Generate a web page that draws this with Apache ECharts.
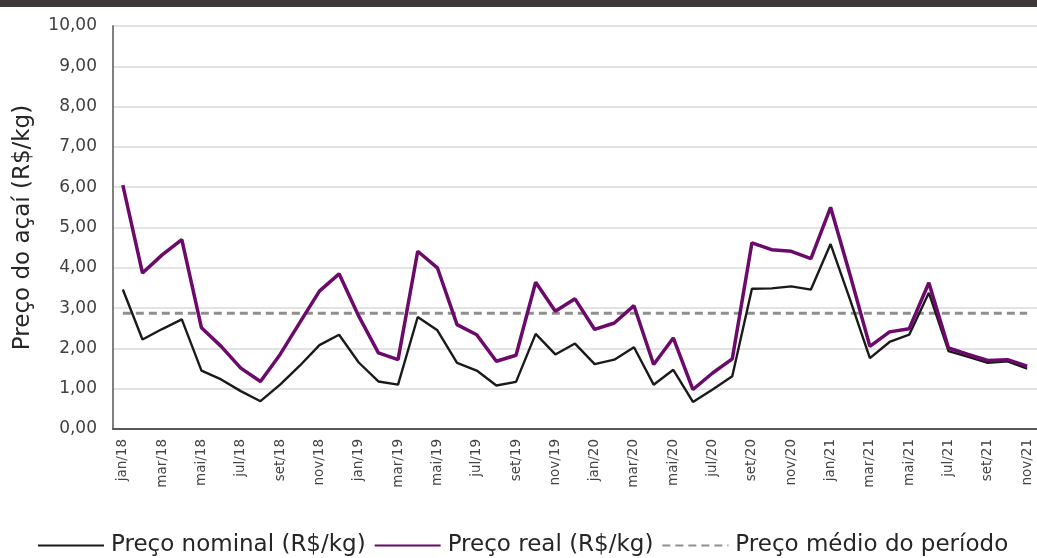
<!DOCTYPE html>
<html>
<head>
<meta charset="utf-8">
<script src="https://cdn.jsdelivr.net/npm/echarts@6/dist/echarts.min.js"></script>
<style>
  html, body { margin: 0; padding: 0; background: #fff; }
  #container { width: 1037px; height: 558px; }
</style>
</head>
<body>
<div id="container"></div>
<script>
var dom = document.getElementById('container');
var myChart = echarts.init(dom, null, { renderer: 'canvas', useDirtyRect: false });

const meses = [
  'jan/18', 'fev/18', 'mar/18', 'abr/18', 'mai/18', 'jun/18', 'jul/18', 'ago/18', 'set/18', 'out/18', 'nov/18', 'dez/18',
  'jan/19', 'fev/19', 'mar/19', 'abr/19', 'mai/19', 'jun/19', 'jul/19', 'ago/19', 'set/19', 'out/19', 'nov/19', 'dez/19',
  'jan/20', 'fev/20', 'mar/20', 'abr/20', 'mai/20', 'jun/20', 'jul/20', 'ago/20', 'set/20', 'out/20', 'nov/20', 'dez/20',
  'jan/21', 'fev/21', 'mar/21', 'abr/21', 'mai/21', 'jun/21', 'jul/21', 'ago/21', 'set/21', 'out/21', 'nov/21'
];

const precoNominal = [
  3.46, 2.22, 2.48, 2.72, 1.45, 1.23, 0.94, 0.69, 1.10, 1.57, 2.08, 2.34,
  1.65, 1.18, 1.10, 2.78, 2.45, 1.64, 1.45, 1.08, 1.17, 2.36, 1.85, 2.12,
  1.61, 1.72, 2.03, 1.10, 1.47, 0.67, 0.98, 1.31, 3.48, 3.49, 3.54, 3.46,
  4.59, 3.20, 1.76, 2.16, 2.34, 3.38, 1.93, 1.79, 1.64, 1.68, 1.50
];

const precoReal = [
  6.05, 3.87, 4.32, 4.70, 2.51, 2.05, 1.51, 1.18, 1.85, 2.64, 3.42, 3.85,
  2.80, 1.89, 1.72, 4.41, 4.00, 2.59, 2.34, 1.68, 1.83, 3.64, 2.92, 3.23,
  2.47, 2.63, 3.06, 1.60, 2.26, 0.98, 1.39, 1.74, 4.62, 4.45, 4.41, 4.23,
  5.50, 3.81, 2.05, 2.41, 2.49, 3.63, 2.01, 1.85, 1.70, 1.72, 1.56
];

// preço médio do período (linha tracejada)
const precoMedio = 2.87;

const yTicks = { min: 0, max: 10, interval: 1 };

const fonte = 'DejaVu Sans, sans-serif';

option = {
  backgroundColor: '#ffffff',
  animation: false,
  textStyle: { fontFamily: fonte },
  graphic: [
    {
      type: 'rect',
      left: 0, top: 0,
      shape: { width: 1037, height: 7 },
      style: { fill: '#3e3938' }
    }
  ],
  grid: {
    left: 113,
    right: -3,
    top: 26,
    bottom: 129
  },
  legend: {
    bottom: 1,
    left: 37,
    width: 1000,
    padding: 0,
    itemWidth: 66,
    itemHeight: 10,
    itemGap: 8,
    itemStyle: { opacity: 0 },
    textStyle: { fontSize: 23, color: '#262626', fontFamily: fonte, padding: [0, 0, 0, 2] },
    data: ['Preço nominal (R$/kg)', 'Preço real (R$/kg)', 'Preço médio do período']
  },
  xAxis: {
    type: 'category',
    data: meses,
    boundaryGap: true,
    axisLine: { lineStyle: { color: '#595959', width: 2 } },
    axisTick: { show: false },
    axisLabel: {
      interval: 1,
      rotate: 90,
      fontSize: 13.5,
      color: '#444444',
      margin: 10
    },
    splitLine: { show: false }
  },
  yAxis: {
    type: 'value',
    min: yTicks.min,
    max: yTicks.max,
    interval: yTicks.interval,
    name: 'Preço do açaí (R$/kg)',
    nameLocation: 'middle',
    nameGap: 78,
    nameTextStyle: { fontSize: 23, color: '#262626' },
    axisLine: { show: true, lineStyle: { color: '#7f7f7f', width: 2 } },
    axisTick: { show: false },
    axisLabel: {
      fontSize: 17,
      color: '#404040',
      margin: 16,
      formatter: function (v) { return v.toFixed(2).replace('.', ','); }
    },
    splitLine: { lineStyle: { color: '#e3e3e3', width: 2 } }
  },
  series: [
    {
      name: 'Preço nominal (R$/kg)',
      type: 'line',
      data: precoNominal,
      symbol: 'none',
      lineStyle: { color: '#1a1a1a', width: 2.4 },
      itemStyle: { color: '#1a1a1a' },
      z: 3
    },
    {
      name: 'Preço médio do período',
      type: 'line',
      data: meses.map(function () { return precoMedio; }),
      symbol: 'none',
      lineStyle: { color: '#8f8f8f', width: 3, type: [8, 5] },
      itemStyle: { color: '#8f8f8f' },
      z: 2
    },
    {
      name: 'Preço real (R$/kg)',
      type: 'line',
      data: precoReal,
      symbol: 'none',
      lineStyle: { color: '#6b0a6b', width: 3.5 },
      itemStyle: { color: '#6b0a6b' },
      z: 4
    }
  ]
};

myChart.setOption(option);
window.addEventListener('resize', myChart.resize);
</script>
</body>
</html>
